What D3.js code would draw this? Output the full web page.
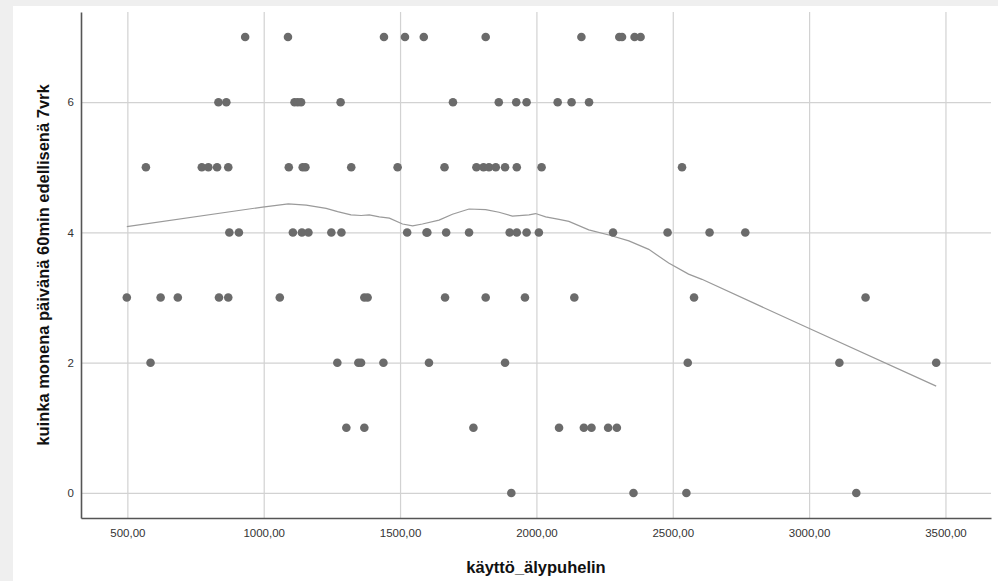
<!DOCTYPE html>
<html lang="fi">
<head>
  <meta charset="utf-8">
  <title>Scatter</title>
  <style>
    body {
      margin: 0;
      background: #efefef;
      font-family: "Liberation Sans", Arial, Helvetica, sans-serif;
    }

    .grid line {
      stroke: #d2d2d2;
      stroke-width: 1.2;
    }

    .grid .domain {
      display: none;
    }

    .axis text {
      font-size: 11.5px;
      fill: #333;
    }
  </style>
</head>

<body>
  <script src="https://d3js.org/d3.v7.min.js"></script>
  <svg width="998" height="581"></svg>
  <script>
    // x values grouped by y level (0..7)
    var days = [7, 6, 5, 4, 3, 2, 1, 0];
    var use7 = [932, 1089, 1441, 1518, 1587, 1814, 2165, 2304, 2314, 2360, 2382];
    var use6 = [834, 863, 1113, 1125, 1137, 1282, 1694, 1862, 1926, 1964, 2078, 2129, 2193];
    var use5 = [568, 773, 797, 829, 870, 1092, 1143, 1153, 1321, 1491, 1663, 1780, 1806, 1826, 1851, 1885, 1928, 2019, 2534];
    var use4 = [874, 909, 1107, 1140, 1164, 1248, 1285, 1526, 1597, 1600, 1669, 1753, 1902, 1928, 1964, 2009, 2281, 2481, 2635, 2766];
    var use3 = [498, 622, 685, 836, 870, 1059, 1369, 1381, 1665, 1814, 1958, 2139, 2578, 3207];
    var use2 = [585, 1270, 1347, 1357, 1439, 1606, 1885, 2555, 3111, 3466];
    var use1 = [1303, 1369, 1769, 2083, 2174, 2202, 2263, 2295];
    var use0 = [1908, 2356, 2550, 3173];

    // loess fit line
    var fitX = [498, 996, 1090, 1156, 1229, 1271, 1320, 1357, 1387, 1424, 1461, 1509, 1546, 1582, 1643, 1692, 1753, 1814, 1863, 1912, 1973, 1997, 2034, 2083, 2119, 2192, 2266, 2339, 2412, 2485, 2558, 2607, 2993, 3466];
    var fitY = [4.09, 4.39, 4.44, 4.42, 4.37, 4.32, 4.27, 4.26, 4.27, 4.24, 4.22, 4.13, 4.10, 4.13, 4.19, 4.28, 4.36, 4.35, 4.31, 4.25, 4.27, 4.29, 4.24, 4.20, 4.17, 4.04, 3.96, 3.87, 3.74, 3.53, 3.36, 3.28, 2.54, 1.64];

    var xTicks = [500, 1000, 1500, 2000, 2500, 3000, 3500];
    var yTicks = [0, 2, 4, 6];

    var svg = d3.select("svg");
    var margin = { left: 81, right: 7, top: 12, bottom: 63 };
    var width = +svg.attr("width");
    var height = +svg.attr("height");

    // white panel
    svg.append("rect")
      .attr("x", 13)
      .attr("y", 6)
      .attr("width", width - 13)
      .attr("height", height - 6)
      .attr("fill", "#fff");

    var x = d3.scaleLinear()
      .domain([330, 3667])
      .range([margin.left, width - margin.right]);

    var y = d3.scaleLinear()
      .domain([-0.385, 7.385])
      .range([height - margin.bottom, margin.top]);

    var fmt = function (d) { return d3.format(".2f")(d).replace(".", ","); };

    // grid
    svg.append("g")
      .attr("class", "grid")
      .attr("transform", "translate(0," + margin.top + ")")
      .call(d3.axisBottom(x).tickValues(xTicks).tickSize(height - margin.top - margin.bottom).tickFormat(""));

    svg.append("g")
      .attr("class", "grid")
      .attr("transform", "translate(" + margin.left + ",0)")
      .call(d3.axisRight(y).tickValues(yTicks).tickSize(width - margin.left - margin.right).tickFormat(""));

    // axes
    var xAxis = svg.append("g")
      .attr("class", "axis")
      .attr("transform", "translate(0," + (height - margin.bottom) + ")")
      .call(d3.axisBottom(x).tickValues(xTicks).tickSize(0).tickPadding(11).tickFormat(fmt));

    var yAxis = svg.append("g")
      .attr("class", "axis")
      .attr("transform", "translate(" + margin.left + ",0)")
      .call(d3.axisLeft(y).tickValues(yTicks).tickSize(0).tickPadding(7));

    svg.selectAll(".axis .domain")
      .attr("stroke", "#555")
      .attr("stroke-width", 1.6);

    // fit line
    var fit = fitX.map(function (d, i) { return [d, fitY[i]]; });
    svg.append("path")
      .datum(fit)
      .attr("fill", "none")
      .attr("stroke", "#9a9a9a")
      .attr("stroke-width", 1.2)
      .attr("d", d3.line()
        .x(function (d) { return x(d[0]); })
        .y(function (d) { return y(d[1]); }));

    // points
    var rows = [use7, use6, use5, use4, use3, use2, use1, use0];
    var points = [];
    rows.forEach(function (row, i) {
      row.forEach(function (v) { points.push({ x: v, y: days[i] }); });
    });

    svg.append("g")
      .selectAll("circle")
      .data(points)
      .enter().append("circle")
      .attr("cx", function (d) { return x(d.x); })
      .attr("cy", function (d) { return y(d.y); })
      .attr("r", 4.3)
      .attr("fill", "#6b6b6b");

    // titles
    svg.append("text")
      .attr("x", (margin.left + width - margin.right) / 2)
      .attr("y", 573)
      .attr("text-anchor", "middle")
      .attr("font-size", "16.5px")
      .attr("font-weight", "bold")
      .attr("fill", "#111")
      .text("käyttö_älypuhelin");

    svg.append("text")
      .attr("transform", "translate(49," + ((margin.top + height - margin.bottom) / 2) + ") rotate(-90)")
      .attr("text-anchor", "middle")
      .attr("font-size", "16.5px")
      .attr("font-weight", "bold")
      .attr("fill", "#111")
      .text("kuinka monena päivänä 60min edellisenä 7vrk");
  </script>
</body>

</html>
